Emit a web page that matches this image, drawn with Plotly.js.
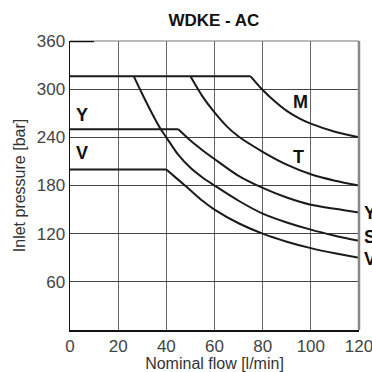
<!DOCTYPE html>
<html>
<head>
<meta charset="utf-8">
<script src="https://cdn.plot.ly/plotly-3.0.1.min.js"></script>
<style>html,body{margin:0;padding:0;background:#fff;}#chart{width:372px;height:372px;}</style>
</head>
<body>
<div id="chart"></div>
<script>
// Curve M (includes the common 316 bar plateau from 0 l/min)
const mFlow = [0, 75, 80, 85, 90, 95, 100, 110, 120];
const mPress = [316, 316, 299, 285, 273, 264, 257, 247, 240];
// Curve T
const tFlow = [50, 55, 60, 65, 70, 80, 90, 100, 110, 120];
const tPress = [316, 291, 271, 254, 241, 222, 206, 194, 186, 180];
// Curve S (steep one leaving the plateau at ~26.5 l/min)
const sFlow = [26.5, 30, 33, 37.5, 40, 45, 50, 55, 60, 70, 80, 90, 100, 110, 120];
const sPress = [316, 294, 276, 251, 240, 218, 202, 190, 180, 161, 145, 134, 125, 117.5, 111];
// Curve Y
const yFlow = [0, 45, 50, 55, 60, 70, 80, 90, 100, 110, 120];
const yPress = [250, 250, 236, 224, 213, 192, 177, 165, 156, 151, 146.5];
// Curve V
const vFlow = [0, 40, 45, 50, 55, 60, 70, 80, 90, 100, 110, 120];
const vPress = [200, 200, 187, 174, 161, 150, 133, 120, 110, 102, 95.5, 90];
// Short dark segment on the top border
const topFlow = [0, 10];
const topPress = [360, 360];

// Curve labels
const labelText = ['M', 'T', 'Y', 'V', 'Y', 'S', 'V'];
const labelFlow = [95.5, 95, 5, 5, 120, 120, 120];
const labelPress = [284, 215, 268, 220, 146, 116, 89];

const xTicks = [0, 20, 40, 60, 80, 100, 120];
const yTicks = [60, 120, 180, 240, 300, 360];

const lineStyle = {color: '#1a1a1a', width: 2};
const series = [[mFlow, mPress], [tFlow, tPress], [sFlow, sPress], [yFlow, yPress], [vFlow, vPress]];
const traces = [];
series.forEach(s => {
  const fx = s[0], fy = s[1];
  let k = 0;
  while (k + 1 < fy.length && fy[k + 1] === fy[0]) k++;
  if (k > 0) {
    traces.push({x: fx.slice(0, k + 1), y: fy.slice(0, k + 1), type: 'scatter', mode: 'lines',
      line: lineStyle, hoverinfo: 'skip', showlegend: false, cliponaxis: false});
  }
  traces.push({x: fx.slice(k), y: fy.slice(k), type: 'scatter', mode: 'lines',
    line: {color: lineStyle.color, width: lineStyle.width, shape: 'spline', smoothing: 0.8},
    hoverinfo: 'skip', showlegend: false, cliponaxis: false});
});
traces.push({x: topFlow, y: topPress, type: 'scatter', mode: 'lines',
  line: {color: '#111', width: 2.5}, showlegend: false, cliponaxis: false});

const annotations = labelText.map((t, i) => {
  const right = i >= 4;
  return {
    x: labelFlow[i], y: labelPress[i], xref: 'x', yref: 'y', text: t,
    showarrow: false, xanchor: right ? 'left' : 'center', yanchor: 'middle',
    xshift: right ? 3 : 0,
    font: {family: 'Liberation Sans, Arial, sans-serif', size: 18, color: '#111', weight: 'bold'}
  };
});

const layout = {
  width: 372, height: 372,
  margin: {l: 70, r: 13, t: 41, b: 42},
  paper_bgcolor: '#fff', plot_bgcolor: '#fff',
  title: {text: '<b>WDKE - AC</b>', x: 0.575, xanchor: 'center', y: 0.945, yanchor: 'middle',
    font: {family: 'Liberation Sans, Arial, sans-serif', size: 17, color: '#111'}},
  xaxis: {
    range: [0, 120], tickvals: xTicks, ticktext: xTicks.map(String),
    showgrid: true, gridcolor: '#666', gridwidth: 1.2,
    showline: true, linecolor: '#111', linewidth: 1.5,
    zeroline: false, ticks: '', ticklen: 0, ticklabeloverflow: 'allow',
    tickfont: {family: 'Liberation Sans, Arial, sans-serif', size: 17, color: '#444'},
    title: {text: 'Nominal flow [l/min]', standoff: 1,
      font: {family: 'Liberation Sans, Arial, sans-serif', size: 16, color: '#333'}},
    fixedrange: true
  },
  yaxis: {
    range: [0, 360], tickvals: yTicks, ticktext: yTicks.map(String),
    showgrid: true, gridcolor: '#444', gridwidth: 1.2,
    showline: true, linecolor: '#111', linewidth: 1.5,
    zeroline: false, ticks: '', ticklen: 0, ticklabeloverflow: 'allow',
    tickfont: {family: 'Liberation Sans, Arial, sans-serif', size: 17, color: '#444'},
    title: {text: 'Inlet pressure [bar]', standoff: 7,
      font: {family: 'Liberation Sans, Arial, sans-serif', size: 16, color: '#333'}},
    fixedrange: true
  },
  shapes: [
    {type: 'line', xref: 'paper', yref: 'paper', x0: 0, x1: 1, y0: 1, y1: 1,
      line: {color: '#777', width: 1.2}, layer: 'below'},
    {type: 'line', xref: 'paper', yref: 'paper', x0: 1, x1: 1, y0: 0, y1: 1,
      line: {color: '#888', width: 2.5}, layer: 'above'}
  ],
  annotations: annotations,
  showlegend: false
};

Plotly.newPlot('chart', traces, layout, {staticPlot: true, displayModeBar: false});
</script>
</body>
</html>
